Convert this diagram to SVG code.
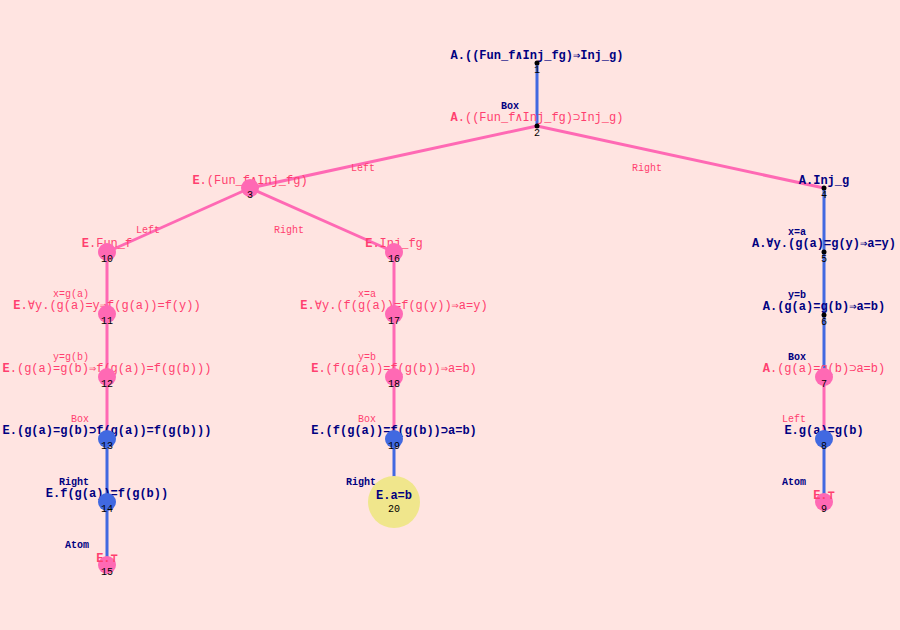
<svg xmlns="http://www.w3.org/2000/svg" width="900" height="630" viewBox="0 0 900 630">
<style>
.bg{fill:#FFE4E1}
.ep{stroke:#FF69B4;stroke-width:3;fill:none}
.eb{stroke:#4169E1;stroke-width:3;fill:none}
.t{font-family:"Liberation Mono","DejaVu Sans Mono",monospace;font-size:12px;text-anchor:middle}
.tn{fill:#000080;font-weight:bold}
.tp{fill:#FF3F6F}
.l{font-family:"Liberation Mono","DejaVu Sans Mono",monospace;font-size:10px;text-anchor:end}
.lm{text-anchor:middle}
.n{font-family:"Liberation Mono","DejaVu Sans Mono",monospace;font-size:10px;text-anchor:middle;fill:#000}
.cp{fill:#FF69B4}
.cb{fill:#4169E1}
.cy{fill:#F0E68C}
.d{fill:#000}
.pf{font-weight:900}
</style>
<rect class="bg" x="0" y="0" width="900" height="630"/>
<g id="connectors">
<line class="eb" x1="537" y1="63" x2="537" y2="126"/>
<line class="ep" x1="537" y1="126" x2="250" y2="188"/>
<line class="ep" x1="537" y1="126" x2="824" y2="188"/>
<line class="ep" x1="250" y1="188" x2="107" y2="252"/>
<line class="ep" x1="250" y1="188" x2="394" y2="252"/>
<line class="eb" x1="824" y1="188" x2="824" y2="377"/>
<line class="ep" x1="824" y1="377" x2="824" y2="439"/>
<line class="eb" x1="824" y1="439" x2="824" y2="502"/>
<line class="ep" x1="107" y1="252" x2="107" y2="439"/>
<line class="eb" x1="107" y1="439" x2="107" y2="565"/>
<line class="ep" x1="394" y1="252" x2="394" y2="439"/>
<line class="eb" x1="394" y1="439" x2="394" y2="502"/>
<text class="l lm tp" x="363" y="171">Left</text>
<text class="l lm tp" x="647" y="171">Right</text>
<text class="l lm tp" x="148" y="233">Left</text>
<text class="l lm tp" x="289" y="233">Right</text>
</g>
<g id="n1">
<text class="t tn" x="537" y="59"><tspan class="pf">A</tspan>.((Fun_f∧Inj_fg)⇒Inj_g)</text>
<circle class="d" cx="537" cy="63" r="2.5"/>
<text class="n" x="537" y="73">1</text>
</g>
<g id="n2">
<text class="l tn" x="519" y="109">Box</text>
<text class="t tp" x="537" y="121"><tspan class="pf">A</tspan>.((Fun_f∧Inj_fg)⊃Inj_g)</text>
<circle class="d" cx="537" cy="126" r="2.5"/>
<text class="n" x="537" y="136">2</text>
</g>
<g id="n3">
<text class="t tp" x="250" y="184"><tspan class="pf">E</tspan>.(Fun_f∧Inj_fg)</text>
<circle class="cp" cx="250" cy="188" r="9"/>
<text class="n" x="250" y="198">3</text>
</g>
<g id="n4">
<text class="t tn" x="824" y="184"><tspan class="pf">A</tspan>.Inj_g</text>
<circle class="d" cx="824" cy="188" r="2.5"/>
<text class="n" x="824" y="198">4</text>
</g>
<g id="n5">
<text class="l tn" x="806" y="235">x=a</text>
<text class="t tn" x="824" y="247"><tspan class="pf">A</tspan>.∀y.(g(a)=g(y)⇒a=y)</text>
<circle class="d" cx="824" cy="252" r="2.5"/>
<text class="n" x="824" y="262">5</text>
</g>
<g id="n6">
<text class="l tn" x="806" y="298">y=b</text>
<text class="t tn" x="824" y="310"><tspan class="pf">A</tspan>.(g(a)=g(b)⇒a=b)</text>
<circle class="d" cx="824" cy="315" r="2.5"/>
<text class="n" x="824" y="325">6</text>
</g>
<g id="n7">
<text class="l tn" x="806" y="360">Box</text>
<text class="t tp" x="824" y="372"><tspan class="pf">A</tspan>.(g(a)=g(b)⊃a=b)</text>
<circle class="cp" cx="824" cy="377" r="9"/>
<text class="n" x="824" y="387">7</text>
</g>
<g id="n8">
<text class="l tp" x="806" y="422">Left</text>
<text class="t tn" x="824" y="434"><tspan class="pf">E</tspan>.g(a)=g(b)</text>
<circle class="cb" cx="824" cy="439" r="9"/>
<text class="n" x="824" y="449">8</text>
</g>
<g id="n9">
<text class="l tn" x="806" y="485">Atom</text>
<circle class="cp" cx="824" cy="502" r="9"/>
<text class="t tp" x="824" y="499" style="font-weight:bold">E.⊤</text>
<text class="n" x="824" y="512">9</text>
</g>
<g id="n10">
<text class="t tp" x="107" y="247"><tspan class="pf">E</tspan>.Fun_f</text>
<circle class="cp" cx="107" cy="252" r="9"/>
<text class="n" x="107" y="262">10</text>
</g>
<g id="n11">
<text class="l tp" x="89" y="297">x=g(a)</text>
<text class="t tp" x="107" y="309"><tspan class="pf">E</tspan>.∀y.(g(a)=y⇒f(g(a))=f(y))</text>
<circle class="cp" cx="107" cy="314" r="9"/>
<text class="n" x="107" y="324">11</text>
</g>
<g id="n12">
<text class="l tp" x="89" y="360">y=g(b)</text>
<text class="t tp" x="107" y="372"><tspan class="pf">E</tspan>.(g(a)=g(b)⇒f(g(a))=f(g(b)))</text>
<circle class="cp" cx="107" cy="377" r="9"/>
<text class="n" x="107" y="387">12</text>
</g>
<g id="n13">
<text class="l tp" x="89" y="422">Box</text>
<text class="t tn" x="107" y="434"><tspan class="pf">E</tspan>.(g(a)=g(b)⊃f(g(a))=f(g(b)))</text>
<circle class="cb" cx="107" cy="439" r="9"/>
<text class="n" x="107" y="449">13</text>
</g>
<g id="n14">
<text class="l tn" x="89" y="485">Right</text>
<text class="t tn" x="107" y="497"><tspan class="pf">E</tspan>.f(g(a))=f(g(b))</text>
<circle class="cb" cx="107" cy="502" r="9"/>
<text class="n" x="107" y="512">14</text>
</g>
<g id="n15">
<text class="l tn" x="89" y="548">Atom</text>
<circle class="cp" cx="107" cy="565" r="9"/>
<text class="t tp" x="107" y="562" style="font-weight:bold">E.⊤</text>
<text class="n" x="107" y="575">15</text>
</g>
<g id="n16">
<text class="t tp" x="394" y="247"><tspan class="pf">E</tspan>.Inj_fg</text>
<circle class="cp" cx="394" cy="252" r="9"/>
<text class="n" x="394" y="262">16</text>
</g>
<g id="n17">
<text class="l tp" x="376" y="297">x=a</text>
<text class="t tp" x="394" y="309"><tspan class="pf">E</tspan>.∀y.(f(g(a))=f(g(y))⇒a=y)</text>
<circle class="cp" cx="394" cy="314" r="9"/>
<text class="n" x="394" y="324">17</text>
</g>
<g id="n18">
<text class="l tp" x="376" y="360">y=b</text>
<text class="t tp" x="394" y="372"><tspan class="pf">E</tspan>.(f(g(a))=f(g(b))⇒a=b)</text>
<circle class="cp" cx="394" cy="377" r="9"/>
<text class="n" x="394" y="387">18</text>
</g>
<g id="n19">
<text class="l tp" x="376" y="422">Box</text>
<text class="t tn" x="394" y="434"><tspan class="pf">E</tspan>.(f(g(a))=f(g(b))⊃a=b)</text>
<circle class="cb" cx="394" cy="439" r="9"/>
<text class="n" x="394" y="449">19</text>
</g>
<g id="n20">
<text class="l tn" x="376" y="485">Right</text>
<circle class="cy" cx="394" cy="502" r="26"/>
<text class="t tn" x="394" y="499"><tspan class="pf">E</tspan>.a=b</text>
<text class="n" x="394" y="512">20</text>
</g>
</svg>
